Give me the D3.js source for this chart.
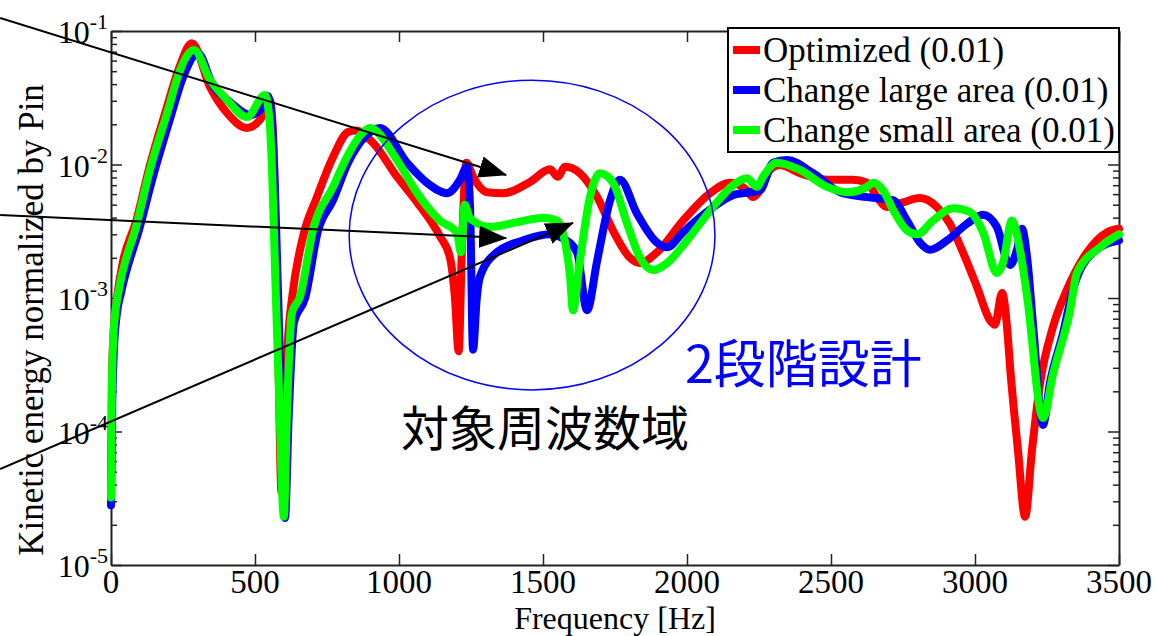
<!DOCTYPE html>
<html>
<head>
<meta charset="utf-8">
<script src="https://cdn.jsdelivr.net/npm/d3@7"></script>
<style>
  body { margin: 0; background: #fff; }
  svg { display: block; }
</style>
</head>
<body>
<script>

// data
const SERIES_NAMES = ["Optimized (0.01)", "Change large area (0.01)", "Change small area (0.01)"];
const SERIES_COLORS = ["#ff0000", "#0000ff", "#00ff00"];

const optimized_freq = [0, 3, 7, 14, 22, 40, 88, 133, 192, 238, 281, 344, 403, 472, 517, 542, 552, 562, 570, 580, 592, 605, 615, 630, 667, 715, 771, 823, 850, 910, 993, 1063, 1142, 1177, 1194, 1207, 1219, 1234, 1257, 1306, 1361, 1455, 1524, 1552, 1576, 1628, 1688, 1743, 1802, 1837, 1896, 1986, 2080, 2149, 2208, 2229, 2253, 2288, 2323, 2392, 2486, 2576, 2625, 2660, 2694, 2750, 2809, 2868, 2913, 2958, 3007, 3052, 3069, 3094, 3111, 3122, 3149, 3174, 3198, 3226, 3271, 3319, 3389, 3458, 3500];
const optimized_energy = [3.3e-5, 2.2e-4, 4.6e-4, 7.2e-4, 1.05e-3, 1.8e-3, 3.8e-3, 9.5e-3, 0.026, 0.054, 0.081, 0.038, 0.0243, 0.0188, 0.0216, 0.027, 0.030, 0.018, 0.004, 5e-4, 3.5e-5, 1.6e-4, 5e-4, 1.05e-3, 0.0029, 0.0057, 0.0114, 0.0175, 0.018, 0.0145, 0.0081, 0.0052, 0.0029, 0.0020, 0.00102, 4.0e-4, 2.6e-3, 0.0103, 0.0081, 0.0062, 0.0061, 0.0074, 0.0092, 0.0081, 0.0096, 0.0086, 0.0057, 0.0032, 0.0020, 0.00183, 0.0022, 0.0038, 0.0061, 0.0073, 0.0064, 0.0057, 0.0064, 0.0091, 0.0099, 0.0086, 0.0077, 0.0077, 0.0073, 0.0057, 0.0048, 0.0052, 0.0056, 0.0048, 0.0036, 0.0022, 0.00121, 0.00068, 0.00063, 0.00109, 0.00061, 0.00030, 7.3e-5, 2.3e-5, 7.3e-5, 2.3e-4, 6.1e-4, 0.00115, 0.0022, 0.0031, 0.0033];

const large_freq = [0, 4, 10, 20, 35, 100, 145, 205, 250, 302, 354, 413, 483, 524, 545, 558, 568, 578, 592, 604, 617, 635, 674, 719, 771, 823, 880, 934, 1028, 1097, 1167, 1212, 1236, 1247, 1257, 1270, 1281, 1340, 1431, 1524, 1569, 1618, 1653, 1688, 1733, 1767, 1826, 1896, 1931, 1986, 2080, 2160, 2219, 2253, 2299, 2347, 2438, 2531, 2625, 2715, 2764, 2809, 2844, 2903, 2972, 3028, 3076, 3111, 3122, 3146, 3163, 3181, 3201, 3236, 3260, 3306, 3340, 3410, 3500];
const large_energy = [2.8e-5, 1.5e-4, 4.0e-4, 7.5e-4, 1.1e-3, 3.4e-3, 8.0e-3, 0.022, 0.045, 0.068, 0.039, 0.0294, 0.0235, 0.0265, 0.0326, 0.022, 0.008, 0.0015, 1.5e-4, 2.25e-5, 1.3e-4, 6.5e-4, 1.0e-3, 0.0032, 0.0054, 0.0103, 0.016, 0.0188, 0.0103, 0.0073, 0.0061, 0.0077, 0.0096, 0.0046, 4.1e-4, 0.001, 0.00144, 0.0022, 0.0027, 0.0030, 0.0028, 0.0022, 8.1e-4, 0.0019, 0.0054, 0.0077, 0.0043, 0.0026, 0.0024, 0.0031, 0.0046, 0.0059, 0.0062, 0.0064, 0.0103, 0.0108, 0.0086, 0.0062, 0.0057, 0.0054, 0.0038, 0.0026, 0.0023, 0.0027, 0.0036, 0.0042, 0.0034, 0.0019, 0.00177, 0.0023, 0.0033, 0.0020, 6.5e-4, 1.12e-4, 2.3e-4, 5.5e-4, 0.00115, 0.0022, 0.0027];

const small_freq = [0, 3, 7, 14, 24, 90, 135, 195, 240, 288, 344, 403, 472, 535, 550, 560, 570, 585, 600, 611, 628, 656, 701, 771, 823, 870, 899, 993, 1063, 1142, 1201, 1215, 1228, 1245, 1257, 1316, 1410, 1500, 1549, 1569, 1594, 1604, 1628, 1663, 1698, 1743, 1792, 1837, 1882, 1931, 2000, 2090, 2160, 2208, 2243, 2264, 2312, 2392, 2486, 2556, 2625, 2646, 2681, 2715, 2764, 2799, 2854, 2924, 2983, 3028, 3076, 3097, 3128, 3156, 3181, 3236, 3271, 3330, 3354, 3434, 3500];
const small_energy = [3.2e-5, 2.0e-4, 4.5e-4, 7.5e-4, 1.05e-3, 3.6e-3, 9.1e-3, 0.0243, 0.0511, 0.072, 0.043, 0.0304, 0.0227, 0.0332, 0.022, 0.008, 0.0015, 1.5e-4, 2.3e-5, 1.4e-4, 7.7e-4, 1.02e-3, 0.0032, 0.0068, 0.0118, 0.017, 0.0188, 0.0108, 0.0061, 0.0038, 0.0031, 0.0022, 0.0050, 0.0040, 0.0038, 0.0034, 0.0037, 0.0040, 0.0038, 0.0031, 0.00144, 8.1e-4, 0.0019, 0.0057, 0.0086, 0.0073, 0.0036, 0.0020, 0.00162, 0.00183, 0.0027, 0.0048, 0.0070, 0.0079, 0.0068, 0.0081, 0.0103, 0.0091, 0.0068, 0.0062, 0.0068, 0.0073, 0.0064, 0.0046, 0.0032, 0.0030, 0.0038, 0.0047, 0.0044, 0.0031, 0.00154, 0.00183, 0.0038, 0.0023, 0.00102, 1.26e-4, 2.7e-4, 8.1e-4, 0.00154, 0.0024, 0.0030];

const X_TICKS = [0, 500, 1000, 1500, 2000, 2500, 3000, 3500];
const Y_DECADES = [-5, -4, -3, -2, -1];

// annotations (frequency, energy)
const ARROW_STARTS = [[-385, 0.125], [-385, 0.00419], [-385, 5.24e-5]];
const ARROW_TIPS = [[1372, 0.00834], [1372, 0.00281], [1604, 0.00365]];
const ELLIPSE_CENTER = [1462, 0.00296];
const ELLIPSE_SPAN = [635, 1.16]; // Hz, decades
const LABEL_TARGET = {text: "対象周波数域", at: [1007, 1.12e-4]};
const LABEL_STAGE = {text: "2段階設計", at: [1993, 3.4e-4]};

// setup
const WIDTH = 1157, HEIGHT = 636;
const margin = {top: 31, right: 38, bottom: 71, left: 111};
const SERIF = "'Liberation Serif', 'Times New Roman', serif";
const CJK = "'Noto Sans CJK JP', sans-serif";

const svg = d3.select("body").append("svg")
    .attr("width", WIDTH)
    .attr("height", HEIGHT);

const x = d3.scaleLinear()
    .domain([0, 3500])
    .range([margin.left, WIDTH - margin.right]);

const y = d3.scaleLog()
    .domain([1e-5, 1e-1])
    .range([HEIGHT - margin.bottom, margin.top]);

const minor_ticks = [];
Y_DECADES.slice(0, -1).forEach(p => {
    for (let k = 2; k <= 9; k++) minor_ticks.push(k * Math.pow(10, p));
});
const major_ticks = Y_DECADES.map(p => Math.pow(10, p));

// axes: ticks all point inwards
const style_axis = g => {
    g.select(".domain").attr("stroke", "#222").attr("stroke-width", 2);
    g.selectAll(".tick line").attr("stroke", "#222").attr("stroke-width", 1.5);
    g.selectAll(".tick text").remove();
};

const bottom_y = y.range()[0], top_y = y.range()[1];
svg.append("g")
    .attr("transform", `translate(0,${bottom_y})`)
    .call(d3.axisBottom(x).tickValues(X_TICKS).tickSizeInner(-11).tickSizeOuter(0))
    .call(style_axis);
svg.append("g")
    .attr("transform", `translate(0,${top_y})`)
    .call(d3.axisTop(x).tickValues(X_TICKS).tickSizeInner(-11).tickSizeOuter(0))
    .call(style_axis);

[[d3.axisLeft, x.range()[0]], [d3.axisRight, x.range()[1]]].forEach(([make, pos]) => {
    svg.append("g")
        .attr("transform", `translate(${pos},0)`)
        .call(make(y).tickValues(major_ticks).tickSizeInner(-11).tickSizeOuter(0))
        .call(style_axis);
    svg.append("g")
        .attr("transform", `translate(${pos},0)`)
        .call(make(y).tickValues(minor_ticks).tickSizeInner(-6).tickSizeOuter(0))
        .call(style_axis)
        .select(".domain").remove();
});

// tick labels
svg.append("g").selectAll("text")
    .data(X_TICKS)
    .join("text")
    .attr("x", d => x(d))
    .attr("y", bottom_y + 27.5)
    .attr("text-anchor", "middle")
    .style("font-family", SERIF)
    .style("font-size", "33px")
    .text(d => d);

const y_labels = svg.append("g").selectAll("text")
    .data(Y_DECADES)
    .join("text")
    .attr("x", x.range()[0] - 3)
    .attr("y", d => y(Math.pow(10, d)) + 12)
    .attr("text-anchor", "end")
    .style("font-family", SERIF)
    .style("font-size", "32px");
y_labels.append("tspan").text("10");
y_labels.append("tspan")
    .attr("dy", -14)
    .style("font-size", "22px")
    .text(d => d);

// axis titles
svg.append("text")
    .attr("x", (x.range()[0] + x.range()[1]) / 2)
    .attr("y", 628.5)
    .attr("text-anchor", "middle")
    .style("font-family", SERIF)
    .style("font-size", "32px")
    .text("Frequency [Hz]");

svg.append("text")
    .attr("transform", `translate(43,${(bottom_y + top_y) / 2 + 22}) rotate(-90)`)
    .attr("text-anchor", "middle")
    .style("font-family", SERIF)
    .style("font-size", "35px")
    .text("Kinetic energy normalized by Pin");

// curves
const series = [
    {freq: optimized_freq, energy: optimized_energy},
    {freq: large_freq, energy: large_energy},
    {freq: small_freq, energy: small_energy}
];

const line = d3.line()
    .x(d => x(d[0]))
    .y(d => y(d[1]))
    .curve(d3.curveMonotoneX);

svg.append("g").selectAll("path")
    .data(series)
    .join("path")
    .attr("d", s => line(d3.zip(s.freq, s.energy)))
    .attr("fill", "none")
    .attr("stroke", (s, i) => SERIES_COLORS[i])
    .attr("stroke-width", 8)
    .attr("stroke-linejoin", "round")
    .attr("stroke-linecap", "round");

// annotations
const [cx, cy] = [x(ELLIPSE_CENTER[0]), y(ELLIPSE_CENTER[1])];
svg.append("ellipse")
    .attr("cx", cx)
    .attr("cy", cy)
    .attr("rx", x(ELLIPSE_CENTER[0] + ELLIPSE_SPAN[0]) - cx)
    .attr("ry", cy - y(ELLIPSE_CENTER[1] * Math.pow(10, ELLIPSE_SPAN[1])))
    .attr("fill", "none")
    .attr("stroke", "#0000ff")
    .attr("stroke-width", 1.5);

svg.append("defs").append("marker")
    .attr("id", "head")
    .attr("markerUnits", "userSpaceOnUse")
    .attr("viewBox", "0 -12 28 24")
    .attr("markerWidth", 28)
    .attr("markerHeight", 24)
    .attr("refX", 27)
    .attr("refY", 0)
    .attr("orient", "auto")
    .append("path")
    .attr("d", "M0,-11L28,0L0,11Z")
    .attr("fill", "#000");

svg.append("g").selectAll("line")
    .data(d3.zip(ARROW_STARTS, ARROW_TIPS))
    .join("line")
    .attr("x1", d => x(d[0][0]))
    .attr("y1", d => y(d[0][1]))
    .attr("x2", d => x(d[1][0]))
    .attr("y2", d => y(d[1][1]))
    .attr("stroke", "#000")
    .attr("stroke-width", 2)
    .attr("marker-end", "url(#head)");

svg.append("text")
    .attr("x", x(LABEL_TARGET.at[0]))
    .attr("y", y(LABEL_TARGET.at[1]))
    .attr("dominant-baseline", "central")
    .style("font-family", CJK)
    .style("font-size", "48px")
    .attr("fill", "#000")
    .text(LABEL_TARGET.text);

svg.append("text")
    .attr("x", x(LABEL_STAGE.at[0]))
    .attr("y", y(LABEL_STAGE.at[1]))
    .attr("dominant-baseline", "central")
    .style("font-family", CJK)
    .style("font-size", "52px")
    .attr("fill", "#0000ff")
    .text(LABEL_STAGE.text);

// legend
const legend = svg.append("g");
legend.append("rect")
    .attr("x", 728)
    .attr("y", 28)
    .attr("width", x.range()[1] - 728)
    .attr("height", 124)
    .attr("fill", "#fff")
    .attr("stroke", "#000")
    .attr("stroke-width", 2);

const rows = legend.selectAll("g.row")
    .data(SERIES_NAMES)
    .join("g")
    .attr("class", "row")
    .attr("transform", (d, i) => `translate(733,${50 + i * 40})`);
rows.append("line")
    .attr("x1", 0).attr("x2", 27)
    .attr("stroke", (d, i) => SERIES_COLORS[i])
    .attr("stroke-width", 8);
rows.append("text")
    .attr("x", 30)
    .attr("y", 12)
    .style("font-family", SERIF)
    .style("font-size", "35px")
    .text(d => d);

</script>
</body>
</html>
